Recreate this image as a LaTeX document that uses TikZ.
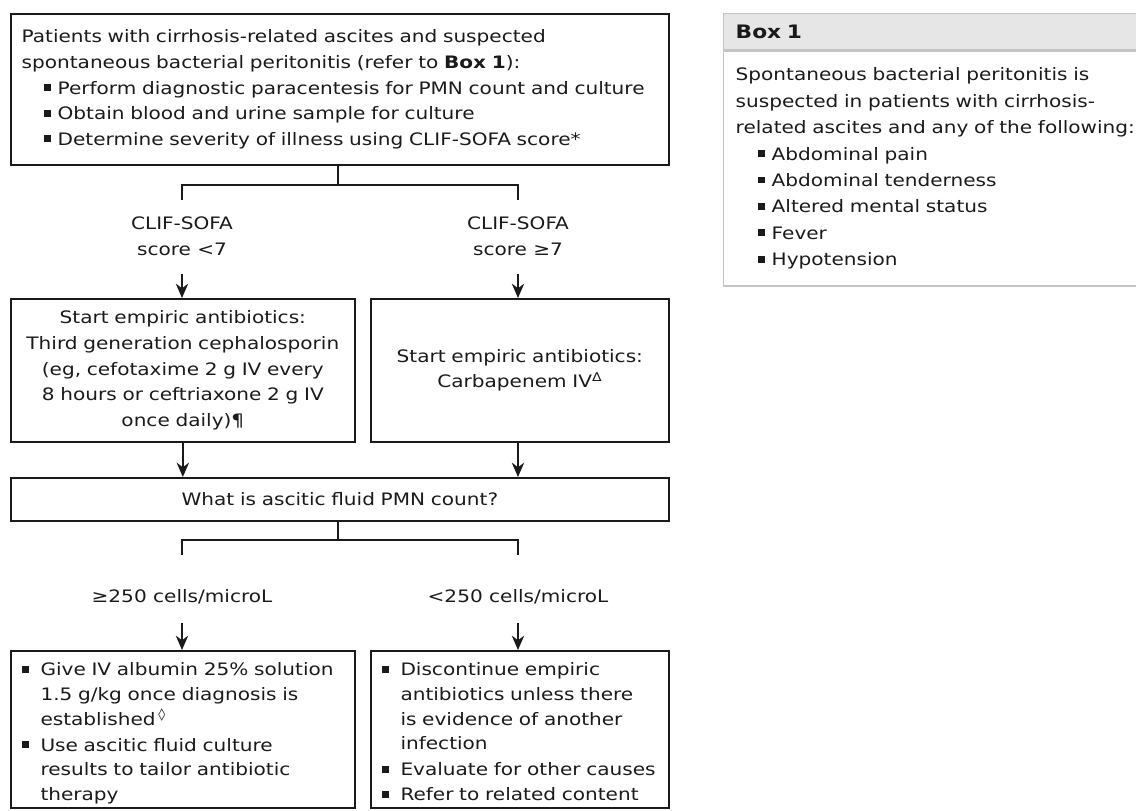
\documentclass[tikz,border=0pt]{standalone}
\usepackage{fontspec}
\setmainfont{DejaVu Sans}[FakeStretch=1.17]
\usetikzlibrary{arrows.meta,positioning,calc}

\definecolor{boxgray}{HTML}{E6E6E6}
\definecolor{boxline}{HTML}{C4C4C4}
\definecolor{ink}{HTML}{1A1A1A}

\newcommand{\sq}{\rule[0.18em]{0.4em}{0.4em}}
\newcommand{\bitem}[1]{\par\noindent\makebox[1.1em][l]{\sq}\begin{tabular}[t]{@{}l@{}}#1\end{tabular}}
\newcommand{\titem}[1]{\par\noindent\hspace*{1.3em}\makebox[0.8em][l]{\sq}#1}

\begin{document}
\begin{tikzpicture}
[font=\fontsize{12.2}{18.2}\selectfont, color=ink, line width=1pt, >={Stealth[length=3.6mm,width=3.1mm]},
box/.style={rectangle, draw=ink, line width=1.2pt, inner xsep=0.27cm, inner ysep=0pt},
lbl/.style={align=center, inner sep=0pt},
wire/.style={line width=1pt, draw=ink}]

\useasboundingbox (0,0) rectangle (28.4,-20.25);
\clip (0,0) rectangle (28.4,-20.25);

% patients box
\node[box, anchor=north west, text width=15.91cm, minimum height=3.775cm, align=left] (start) at (0.25,-0.325)
 {Patients with cirrhosis-related ascites and suspected\\
  spontaneous bacterial peritonitis (refer to \textbf{Box 1}):
  \titem{Perform diagnostic paracentesis for PMN count and culture}
  \titem{Obtain blood and urine sample for culture}
  \titem{Determine severity of illness using CLIF-SOFA score*}};

\coordinate (split1) at (8.45,-4.625);
\coordinate (low1) at (4.55,-5.0);
\coordinate (high1) at (12.95,-5.0);

\node[lbl] (lowscore) at (4.55,-5.9) {CLIF-SOFA\\score <7};
\node[lbl] (highscore) at (12.95,-5.9) {CLIF-SOFA\\score ≥7};

% antibiotics
\node[box, anchor=north west, text width=8.06cm, minimum height=3.575cm, align=center] (ceph) at (0.25,-7.45)
 {Start empiric antibiotics:\\Third generation cephalosporin\\(eg, cefotaxime 2 g IV every\\8 hours or ceftriaxone 2 g IV\\once daily)¶};
\node[box, anchor=north west, text width=6.91cm, minimum height=3.575cm, align=center] (carba) at (9.25,-7.45)
 {Start empiric antibiotics:\\Carbapenem IV\textsuperscript{Δ}};

\node[box, anchor=north west, text width=15.91cm, minimum height=1.075cm, align=center] (pmn) at (0.25,-11.925)
 {What is ascitic fluid PMN count?};

\coordinate (split2) at (8.45,-13.5);
\coordinate (low2) at (4.55,-13.875);
\coordinate (high2) at (12.95,-13.875);

\node[lbl] (highcount) at (4.55,-14.925) {≥250 cells/microL};
\node[lbl] (lowcount) at (12.95,-14.925) {<250 cells/microL};

% results
\node[box, anchor=north west, text width=8.06cm, minimum height=3.9cm, align=left, font=\fontsize{12.2}{17.6}\selectfont] (albumin) at (0.25,-16.25)
 {\bitem{Give IV albumin 25\% solution\\1.5 g/kg once diagnosis is\\established\,\textsuperscript{◊}}
  \bitem{Use ascitic fluid culture\\results to tailor antibiotic\\therapy}};
\node[box, anchor=north west, text width=6.91cm, minimum height=3.9cm, align=left, font=\fontsize{12.2}{17.6}\selectfont] (stop) at (9.25,-16.25)
 {\bitem{Discontinue empiric\\antibiotics unless there\\is evidence of another\\infection}
  \bitem{Evaluate for other causes}
  \bitem{Refer to related content}};

% connectors
\draw[wire] (start.south -| split1) -- (split1);
\draw[wire] (low1) |- (split1) -| (high1);
\draw[wire] (pmn.south -| split2) -- (split2);
\draw[wire] (low2) |- (split2) -| (high2);

\foreach \a/\b in {lowscore/ceph, highscore/carba, highcount/albumin, lowcount/stop} {
  \draw[wire,->] ($(\a.south)+(0,-0.45)$) -- (\a.south |- \b.north);
}
\draw[wire,->] (ceph.south) -- (ceph.south |- pmn.north);
\draw[wire,->] (carba.south -| highscore) -- (highscore |- pmn.north);

% Box 1
\node[rectangle, draw=boxline, fill=boxgray, line width=1pt, anchor=north west, minimum width=11cm, minimum height=0.9cm,
  text width=10.4cm, align=left, inner xsep=0.3cm] (boxhead) at (18.075,-0.325) {\fontsize{13.2}{16}\selectfont\textbf{Box 1}};
\node[rectangle, draw=boxline, line width=1pt, anchor=north west, minimum width=11cm, minimum height=5.875cm,
  text width=10.4cm, align=left, inner xsep=0.3cm, font=\fontsize{12.2}{18.8}\selectfont] (boxbody) at (boxhead.south west)
 {Spontaneous bacterial peritonitis is\\suspected in patients with cirrhosis-\\related ascites and any of the following:
  \titem{Abdominal pain}
  \titem{Abdominal tenderness}
  \titem{Altered mental status}
  \titem{Fever}
  \titem{Hypotension}};
\end{tikzpicture}
\end{document}
